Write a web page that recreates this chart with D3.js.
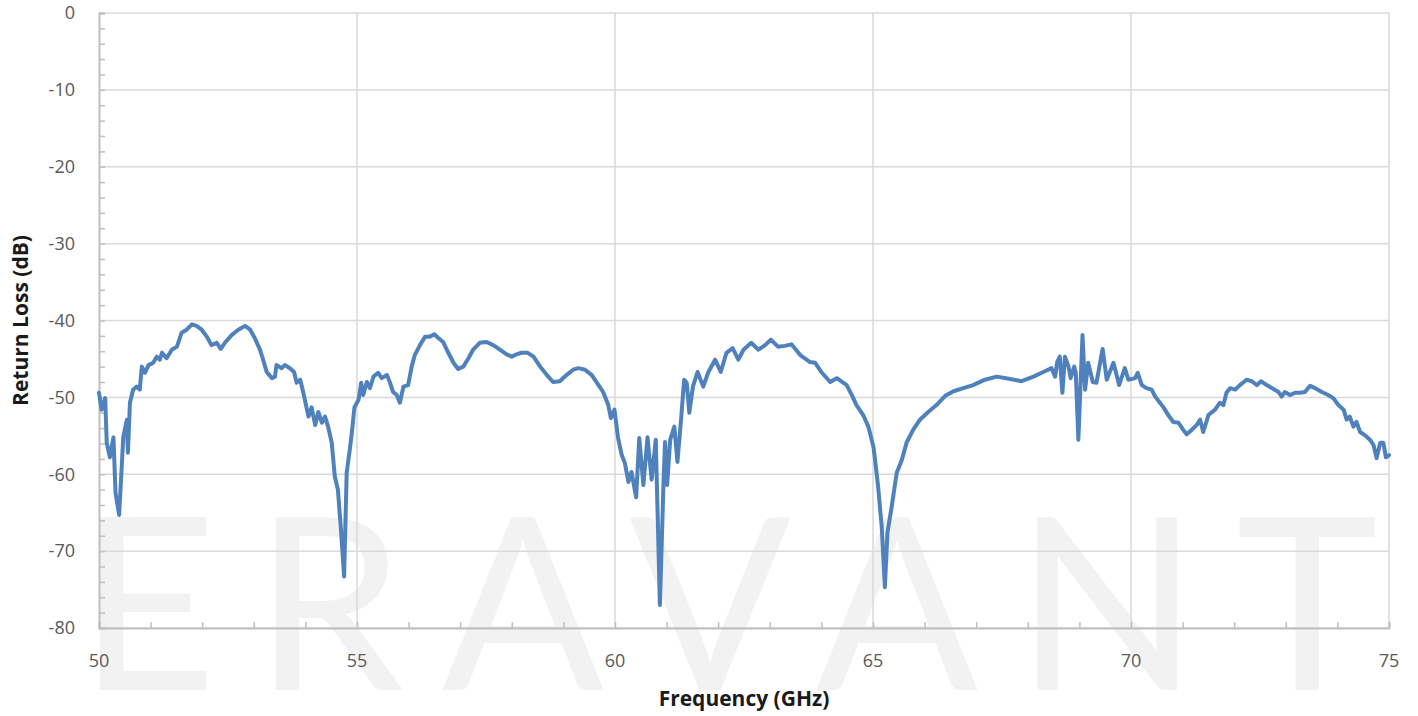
<!DOCTYPE html>
<html>
<head>
<meta charset="utf-8">
<script src="https://cdn.jsdelivr.net/npm/d3@7"></script>
<style>
  body { margin: 0; background: #fff; }
  text { font-family: "Open Sans", "Liberation Sans", sans-serif; }
</style>
</head>
<body>
<svg id="chart" width="1418" height="716"></svg>
<script>
  // return loss trace (GHz, dB)
  var freq = [50.00,50.05,50.12,50.15,50.21,50.28,50.32,50.39,50.44,50.47,50.54,50.56,50.60,50.66,50.73,50.79,50.83,50.89,50.96,51.05,
    51.12,51.18,51.22,51.31,51.41,51.51,51.60,51.70,51.80,51.89,51.99,52.09,52.18,52.28,52.36,52.44,52.57,52.70,52.83,52.93,
    53.02,53.12,53.18,53.25,53.35,53.41,53.44,53.54,53.60,53.70,53.78,53.83,53.90,53.96,54.06,54.12,54.19,54.25,54.32,54.38,
    54.44,54.51,54.57,54.63,54.69,54.75,54.80,54.86,54.90,54.95,55.03,55.08,55.12,55.19,55.25,55.32,55.41,55.48,55.58,55.64,
    55.70,55.77,55.83,55.90,55.99,56.06,56.12,56.22,56.32,56.41,56.50,56.58,56.67,56.77,56.87,56.96,57.06,57.16,57.25,57.38,
    57.51,57.64,57.77,57.90,58.00,58.09,58.19,58.31,58.42,58.55,58.68,58.80,58.93,59.06,59.19,59.29,59.42,59.55,59.68,59.77,
    59.87,59.92,59.99,60.06,60.13,60.19,60.26,60.32,60.41,60.47,60.55,60.63,60.71,60.79,60.87,60.94,60.97,61.01,61.07,61.15,
    61.21,61.28,61.34,61.39,61.44,61.51,61.60,61.71,61.81,61.94,62.05,62.16,62.28,62.39,62.49,62.64,62.78,62.91,63.02,63.16,
    63.29,63.42,63.59,63.78,63.88,64.01,64.17,64.30,64.49,64.59,64.68,64.81,64.91,65.01,65.04,65.10,65.17,65.23,65.28,65.36,
    65.46,65.56,65.65,65.78,65.91,66.07,66.23,66.40,66.56,66.75,66.94,67.17,67.40,67.66,67.88,68.11,68.30,68.46,68.53,68.57,
    68.62,68.67,68.72,68.79,68.83,68.90,68.93,68.98,69.06,69.11,69.17,69.26,69.33,69.45,69.53,69.66,69.77,69.88,69.95,70.08,
    70.13,70.21,70.30,70.40,70.47,70.56,70.63,70.72,70.82,70.92,71.01,71.08,71.18,71.27,71.34,71.40,71.50,71.63,71.72,71.79,
    71.85,71.92,72.02,72.11,72.24,72.34,72.44,72.52,72.63,72.76,72.86,72.92,72.98,73.08,73.18,73.28,73.37,73.47,73.57,73.70,
    73.82,73.92,74.02,74.12,74.18,74.24,74.31,74.37,74.44,74.53,74.63,74.70,74.76,74.83,74.89,74.94,75.00];

  var returnLoss = [-49.4,-51.6,-50.1,-55.9,-57.8,-55.2,-62.4,-65.3,-59.1,-55.2,-52.9,-57.2,-50.7,-49.0,-48.6,-49.0,-46.0,-46.8,-45.8,-45.5,
    -44.7,-45.1,-44.2,-44.9,-43.8,-43.4,-41.6,-41.2,-40.5,-40.7,-41.2,-42.1,-43.2,-42.9,-43.7,-42.9,-41.9,-41.2,-40.7,-41.2,
    -42.3,-43.8,-45.1,-46.7,-47.5,-47.3,-45.8,-46.2,-45.8,-46.2,-46.7,-48.1,-47.7,-49.4,-52.5,-51.3,-53.6,-51.9,-53.3,-52.5,
    -53.8,-55.9,-60.3,-62.0,-67.3,-73.3,-59.8,-56.8,-54.6,-51.3,-50.3,-48.1,-49.7,-48.0,-48.8,-47.3,-46.8,-47.5,-47.1,-48.1,
    -49.3,-49.7,-50.7,-48.6,-48.4,-46.0,-44.5,-43.2,-42.1,-42.1,-41.8,-42.3,-42.8,-44.2,-45.5,-46.3,-46.0,-44.9,-43.8,-42.9,
    -42.8,-43.2,-43.8,-44.4,-44.7,-44.4,-44.2,-44.2,-44.7,-46.0,-47.1,-48.0,-47.9,-47.1,-46.4,-46.2,-46.4,-47.1,-48.4,-49.3,
    -51.0,-52.7,-51.6,-55.3,-57.5,-58.5,-61.0,-59.7,-63.0,-55.3,-61.4,-55.2,-60.7,-55.5,-77.0,-61.1,-55.8,-61.4,-55.5,-53.8,
    -58.4,-52.9,-47.7,-48.1,-52.0,-48.6,-46.7,-48.6,-46.7,-45.1,-46.7,-44.2,-43.6,-45.1,-43.8,-42.9,-43.8,-43.2,-42.5,-43.4,
    -43.3,-43.1,-44.5,-45.4,-45.5,-46.8,-48.0,-47.5,-48.4,-49.7,-51.0,-52.3,-53.8,-56.5,-58.1,-61.7,-66.9,-74.7,-67.6,-64.3,
    -59.8,-58.1,-55.9,-54.2,-52.9,-51.9,-51.0,-49.8,-49.2,-48.8,-48.4,-47.7,-47.3,-47.6,-47.9,-47.3,-46.7,-46.2,-47.3,-45.4,
    -44.7,-49.4,-44.7,-46.0,-47.5,-46.0,-46.8,-55.5,-41.9,-49.0,-45.5,-48.0,-48.1,-43.7,-47.7,-45.5,-48.4,-46.2,-47.7,-47.5,
    -46.8,-48.4,-48.8,-49.0,-49.9,-50.7,-51.3,-52.3,-53.2,-53.3,-54.2,-54.8,-54.2,-53.6,-52.9,-54.5,-52.3,-51.6,-50.7,-51.0,
    -49.4,-48.8,-49.0,-48.4,-47.7,-47.9,-48.4,-47.9,-48.4,-48.9,-49.3,-49.9,-49.3,-49.7,-49.4,-49.4,-49.3,-48.5,-48.8,-49.3,
    -49.7,-50.1,-51.0,-51.6,-52.9,-52.5,-53.8,-53.2,-54.5,-54.9,-55.5,-56.2,-57.9,-55.9,-55.9,-57.8,-57.5];

  var xTicks = [50, 55, 60, 65, 70, 75];
  var yTicks = [0, -10, -20, -30, -40, -50, -60, -70, -80];

  var svg = d3.select("#chart"),
      margin = {top: 13, right: 29, bottom: 88, left: 99},
      width = +svg.attr("width") - margin.left - margin.right,
      height = +svg.attr("height") - margin.top - margin.bottom;

  // watermark sits behind everything
  svg.append("text")
      .attr("x", 78)
      .attr("y", 690)
      .attr("textLength", 1300)
      .attr("lengthAdjust", "spacing")
      .style("font-family", "Lato, 'Open Sans', sans-serif")
      .style("font-size", "240px")
      .style("fill", "#f2f2f2")
      .text("ERAVANT");

  var x = d3.scaleLinear().domain([50, 75]).range([0, width]),
      y = d3.scaleLinear().domain([-80, 0]).range([height, 0]);

  var g = svg.append("g")
      .attr("transform", "translate(" + margin.left + "," + margin.top + ")");

  // gridlines
  g.append("g").selectAll("line")
      .data(yTicks)
    .enter().append("line")
      .attr("x1", 0).attr("x2", width)
      .attr("y1", function(d) { return y(d); })
      .attr("y2", function(d) { return y(d); })
      .attr("stroke", "#d9d9d9").attr("stroke-width", 1.5);

  g.append("g").selectAll("line")
      .data(xTicks.slice(1))
    .enter().append("line")
      .attr("y1", 0).attr("y2", height)
      .attr("x1", function(d) { return x(d); })
      .attr("x2", function(d) { return x(d); })
      .attr("stroke", "#d9d9d9").attr("stroke-width", 1.5);

  // axes: ticks point into the plot
  var xAxis = d3.axisTop(x).tickValues(d3.range(50, 76, 1)).tickSize(6).tickFormat("");
  var yAxis = d3.axisRight(y).tickValues(d3.range(-80, 1, 2)).tickSize(6).tickFormat("");

  var gx = g.append("g")
      .attr("transform", "translate(0," + height + ")")
      .call(xAxis);
  var gy = g.append("g").call(yAxis);

  [gx, gy].forEach(function(a) {
    a.select(".domain").attr("stroke", "#bfbfbf").attr("stroke-width", 2);
    a.selectAll(".tick line").attr("stroke", "#bfbfbf").attr("stroke-width", 1.5);
  });

  // tick labels
  g.append("g").selectAll("text")
      .data(xTicks)
    .enter().append("text")
      .attr("x", function(d) { return x(d); })
      .attr("y", height + 39)
      .attr("text-anchor", "middle")
      .style("font-size", "18px")
      .style("fill", "#595959")
      .text(function(d) { return d; });

  g.append("g").selectAll("text")
      .data(yTicks)
    .enter().append("text")
      .attr("x", -24)
      .attr("y", function(d) { return y(d); })
      .attr("dy", "0.35em")
      .attr("text-anchor", "end")
      .style("font-size", "18px")
      .style("fill", "#595959")
      .text(function(d) { return d; });

  // axis titles
  svg.append("text")
      .attr("x", margin.left + width / 2)
      .attr("y", 706)
      .attr("text-anchor", "middle")
      .style("font-size", "21px")
      .style("font-weight", "bold")
      .style("fill", "#1a1a1a")
      .text("Frequency (GHz)");

  svg.append("text")
      .attr("transform", "translate(28," + (margin.top + height / 2) + ") rotate(-90)")
      .attr("text-anchor", "middle")
      .style("font-size", "21px")
      .style("font-weight", "bold")
      .style("fill", "#1a1a1a")
      .text("Return Loss (dB)");

  var data = freq.map(function(f, i) { return {f: f, v: returnLoss[i]}; });

  var line = d3.line()
      .x(function(d) { return x(d.f); })
      .y(function(d) { return y(d.v); });

  g.append("path")
      .datum(data)
      .attr("fill", "none")
      .attr("stroke", "#4f81bd")
      .attr("stroke-width", 4)
      .attr("stroke-linejoin", "round")
      .attr("stroke-linecap", "round")
      .attr("d", line);
</script>
</body>
</html>
